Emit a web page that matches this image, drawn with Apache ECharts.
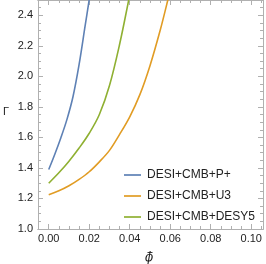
<!DOCTYPE html>
<html><head><meta charset="utf-8">
<script src="https://cdn.jsdelivr.net/npm/echarts@6/dist/echarts.min.js"></script>
<style>html,body{margin:0;padding:0;background:#fff}#c{width:266px;height:264px}</style>
</head><body><div id="c"></div>
<script>
const seriesNames = ['DESI+CMB+P+', 'DESI+CMB+U3', 'DESI+CMB+DESY5'];
const phiBlue   = [0, 0.003, 0.006, 0.009, 0.012, 0.015, 0.018, 0.0198, 0.021];
const gammaBlue = [1.39, 1.49, 1.598, 1.718, 1.868, 2.078, 2.333, 2.486, 2.59];
const phiOrange   = [0, 0.005, 0.01, 0.015, 0.02, 0.025, 0.03, 0.035, 0.04, 0.045, 0.05, 0.055, 0.0588, 0.06];
const gammaOrange = [1.225, 1.25, 1.283, 1.325, 1.375, 1.44, 1.515, 1.62, 1.735, 1.88, 2.07, 2.3, 2.5, 2.57];
const phiGreen   = [0, 0.005, 0.01, 0.015, 0.02, 0.025, 0.03, 0.035, 0.0395, 0.041];
const gammaGreen = [1.30, 1.368, 1.444, 1.53, 1.627, 1.75, 1.94, 2.21, 2.5, 2.6];
const xTickLabels = [0, 0.02, 0.04, 0.06, 0.08, 0.10];
const yTickLabels = [1.0, 1.2, 1.4, 1.6, 1.8, 2.0, 2.2, 2.4];
const xMinorTicks = [-0.005, 0.005, 0.01, 0.015, 0.025, 0.03, 0.035, 0.045, 0.05, 0.055, 0.065, 0.07, 0.075, 0.085, 0.09, 0.095, 0.105];
const yMinorTicks = [1.05, 1.1, 1.15, 1.25, 1.3, 1.35, 1.45, 1.5, 1.55, 1.65, 1.7, 1.75, 1.85, 1.9, 1.95, 2.05, 2.1, 2.15, 2.25, 2.3, 2.35, 2.45];
const colors = ['#5E81B5', '#E19C24', '#8FB032'];

const XMIN = -0.0053, XMAX = 0.1058, YMIN = 1.0, YMAX = 2.5;
const frameColor = '#b0b0b0';

function xAx(pos, major, labels) {
  return {
    type: 'value', position: pos, min: XMIN, max: XMAX, gridIndex: 0,
    axisLine: {show: true, onZero: false, lineStyle: {color: frameColor, width: 1}},
    splitLine: {show: false},
    axisTick: {show: true, inside: true, length: major ? 5 : 3, lineStyle: {color: frameColor},
      customValues: major ? xTickLabels : xMinorTicks},
    axisLabel: {show: labels, customValues: xTickLabels, color: '#222', fontSize: 11,
      fontFamily: 'Liberation Sans', margin: 4, formatter: v => v.toFixed(2)}
  };
}
function yAx(pos, major, labels) {
  return {
    type: 'value', position: pos, min: YMIN, max: YMAX, gridIndex: 0,
    axisLine: {show: true, onZero: false, lineStyle: {color: frameColor, width: 1}},
    splitLine: {show: false},
    axisTick: {show: true, inside: true, length: major ? 5 : 3, lineStyle: {color: frameColor},
      customValues: major ? yTickLabels : yMinorTicks},
    axisLabel: {show: labels, customValues: yTickLabels, color: '#222', fontSize: 11,
      fontFamily: 'Liberation Sans', margin: 5, formatter: v => v.toFixed(1)}
  };
}

function pairs(xs, ys) { return xs.map((x, i) => [x, ys[i]]); }

const chart = echarts.init(document.getElementById('c'), null, {renderer: 'canvas'});
chart.setOption({
  animation: false,
  grid: {left: 38, right: 3, top: 0, bottom: 35, containLabel: false},
  xAxis: [xAx('bottom', true, true), xAx('bottom', false, false), xAx('top', true, false), xAx('top', false, false)],
  yAxis: [yAx('left', true, true), yAx('left', false, false), yAx('right', true, false), yAx('right', false, false)],
  legend: {
    orient: 'vertical', left: 119, top: 164, itemWidth: 17, itemHeight: 14, itemGap: 9,
    icon: 'path://M0,0 L20,0 L20,2 L0,2 Z',
    data: seriesNames,
    textStyle: {fontSize: 12, color: '#222', fontFamily: 'Liberation Sans', padding: [0, 0, 0, 1]}
  },
  graphic: [
    {type: 'text', left: 3, top: 106, style: {text: 'Γ', fontSize: 11, fill: '#222', fontFamily: 'Liberation Sans'}},
    {type: 'text', left: 145, top: 252, style: {text: 'ϕ', fontSize: 12, fontStyle: 'italic', fill: '#222', fontFamily: 'DejaVu Serif'}},
    {type: 'line', shape: {x1: 147.5, y1: 252.5, x2: 152.5, y2: 252.5}, style: {stroke: '#222', lineWidth: 0.9}}
  ],
  series: [
    {name: seriesNames[0], type: 'line', xAxisIndex: 0, yAxisIndex: 0, data: pairs(phiBlue, gammaBlue), smooth: 0.35, symbol: 'none', clip: true, color: colors[0], lineStyle: {width: 1.6}},
    {name: seriesNames[1], type: 'line', xAxisIndex: 0, yAxisIndex: 0, data: pairs(phiOrange, gammaOrange), smooth: 0.35, symbol: 'none', clip: true, color: colors[1], lineStyle: {width: 1.6}},
    {name: seriesNames[2], type: 'line', xAxisIndex: 0, yAxisIndex: 0, data: pairs(phiGreen, gammaGreen), smooth: 0.35, symbol: 'none', clip: true, color: colors[2], lineStyle: {width: 1.6}}
  ]
});
</script></body></html>
